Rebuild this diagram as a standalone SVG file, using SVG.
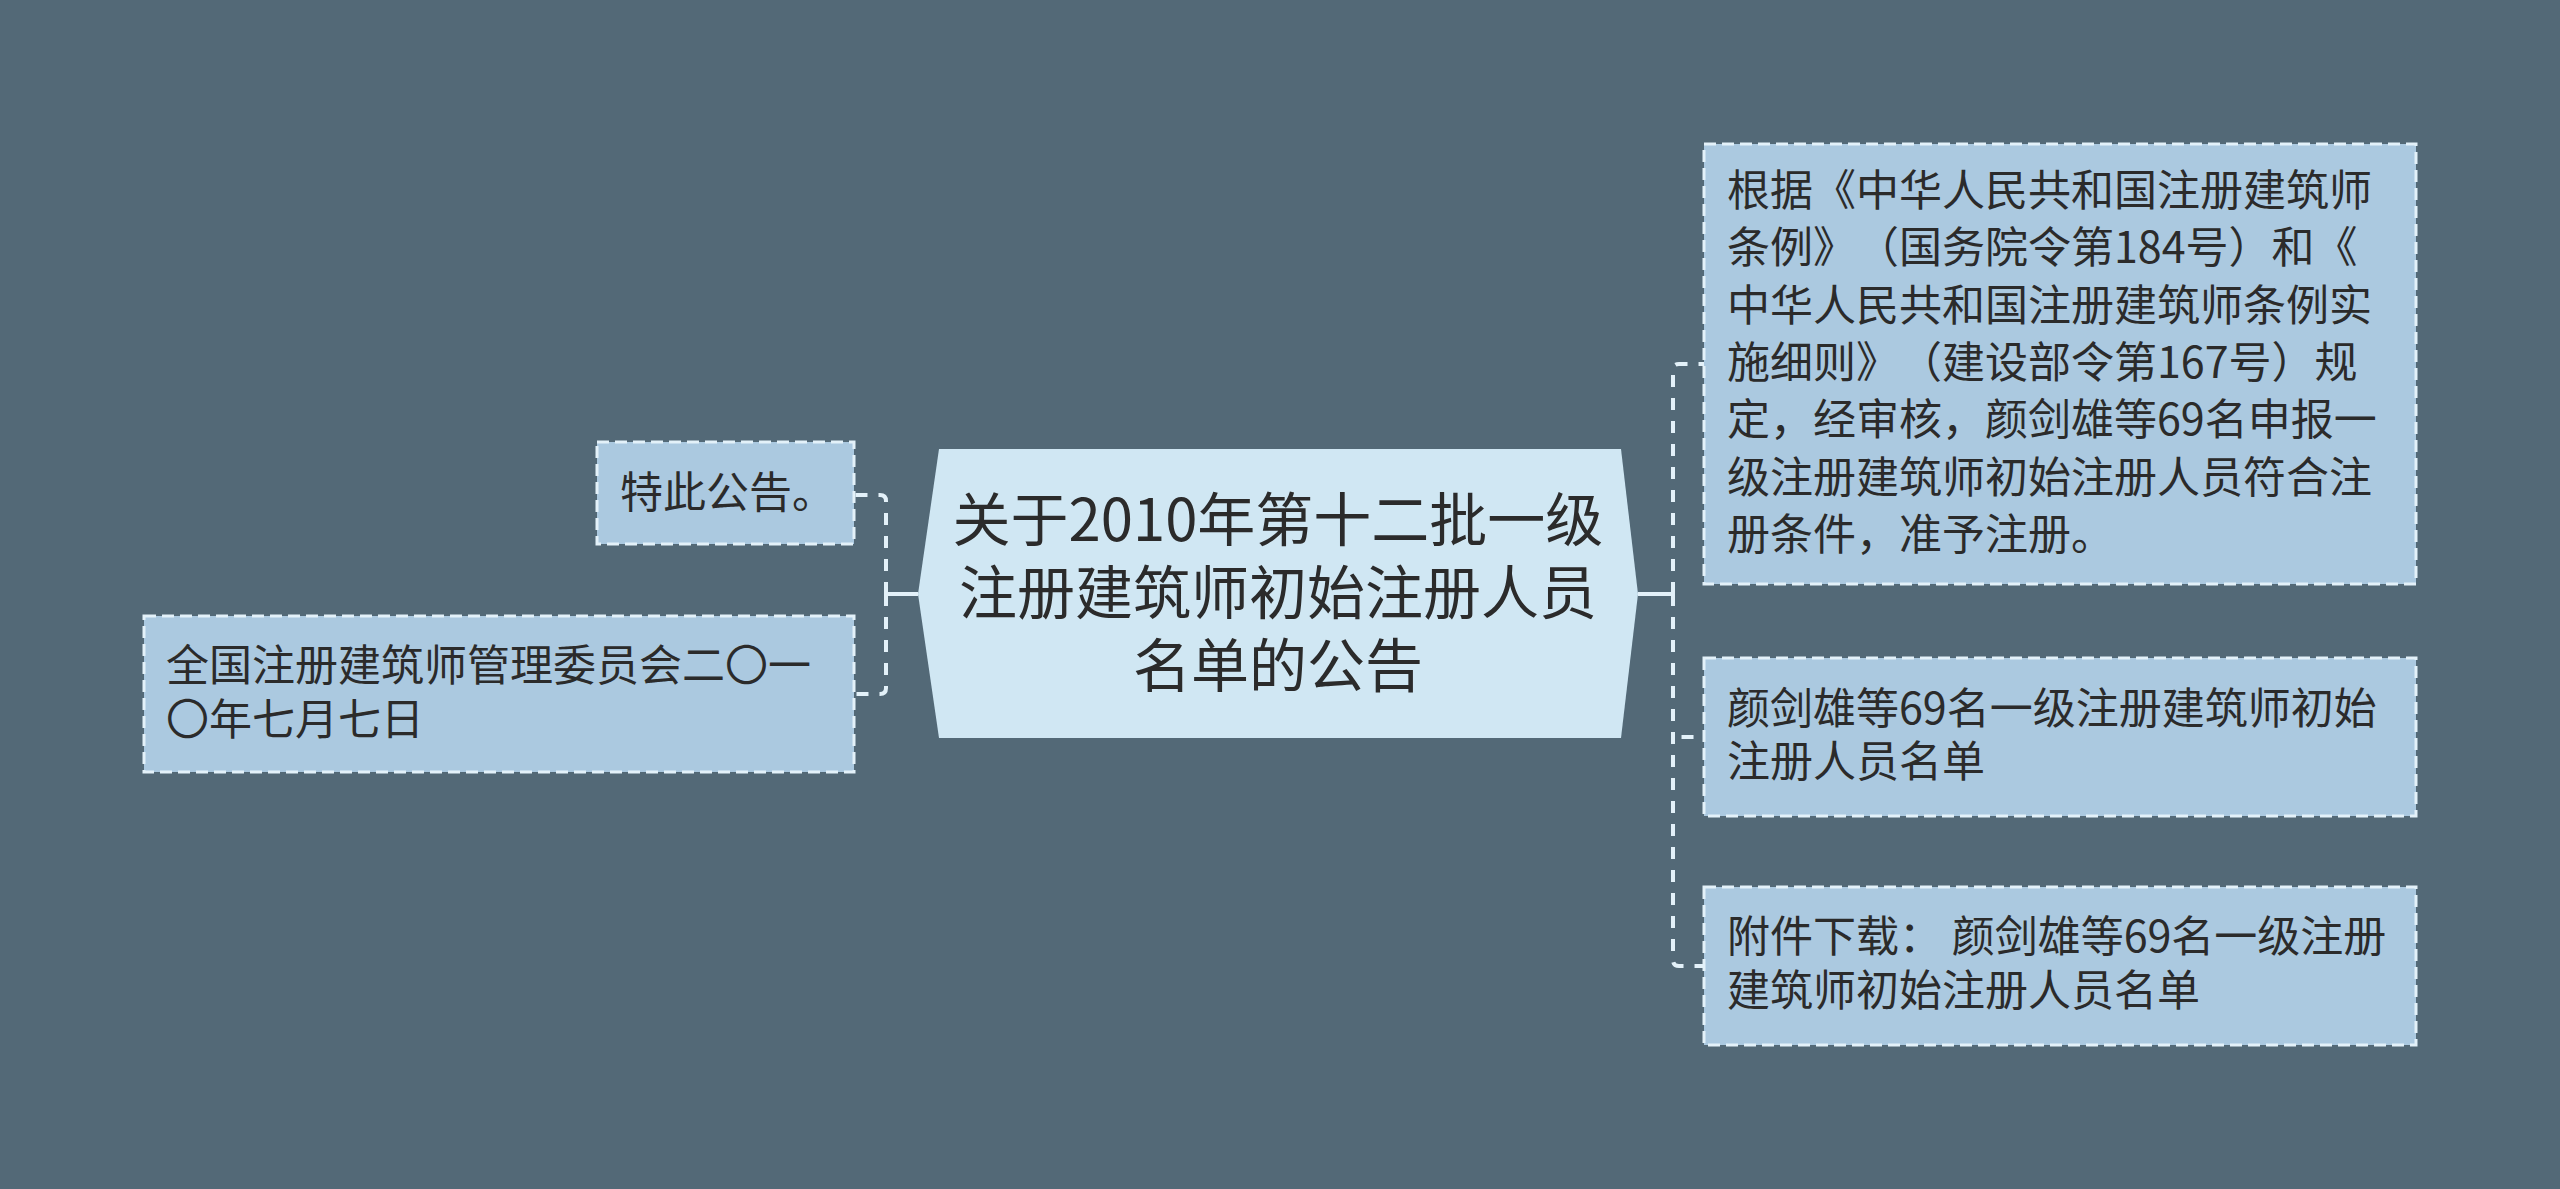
<svg xmlns="http://www.w3.org/2000/svg" width="2560" height="1189" viewBox="0 0 2560 1189">
<style>
.bg{fill:#536977}
.root{fill:#d0e7f3}
.leaf{fill:#abc9e0;stroke:#e3f1f9;stroke-width:3;stroke-dasharray:12 6}
.conn{fill:none;stroke:#e3f1f9;stroke-width:4}
.dash{stroke-dasharray:12 11}
text{font-family:"Noto Sans CJK SC","Noto Sans",sans-serif;fill:#2b2b2b;text-spacing-trim:space-all}
.t1{font-size:58px;text-anchor:middle}
.t2{font-size:43px}
</style>
<rect class="bg" x="0" y="0" width="2560" height="1189"/>
<g id="connectors">
<path class="conn" d="M918 594 H886"/>
<path class="conn dash" d="M886 594 V501 Q886 495 880 495 H854"/>
<path class="conn dash" d="M886 594 V688 Q886 694 880 694 H854"/>
<path class="conn" d="M1638 594 H1673"/>
<path class="conn dash" d="M1673 594 V370 Q1673 364 1679 364 H1704"/>
<path class="conn dash" d="M1673 594 V743 Q1673 737 1679 737 H1704"/>
<path class="conn dash" d="M1673 594 V960 Q1673 966 1679 966 H1704"/>
</g>
<g id="root">
<polygon class="root" points="939,449 1621,449 1638,594 1621,738 939,738 918,594"/>
<text class="t1" x="1278"><tspan x="1278" y="541">关于2010年第十二批一级</tspan><tspan x="1278" y="614">注册建筑师初始注册人员</tspan><tspan x="1278" y="687">名单的公告</tspan></text>
</g>
<g id="node-tecigonggao">
<rect class="leaf" x="597" y="442" width="257" height="102"/>
<text class="t2" x="620" y="508">特此公告。</text>
</g>
<g id="node-quanguo">
<rect class="leaf" x="144" y="616" width="710" height="156"/>
<text class="t2"><tspan x="166" y="681">全国注册建筑师管理委员会二〇一</tspan><tspan x="166" y="735">〇年七月七日</tspan></text>
</g>
<g id="node-genju">
<rect class="leaf" x="1704" y="144" width="712" height="440"/>
<text class="t2"><tspan x="1727" y="206">根据《中华人民共和国注册建筑师</tspan><tspan x="1727" y="263">条例》（国务院令第184号）和《</tspan><tspan x="1727" y="321">中华人民共和国注册建筑师条例实</tspan><tspan x="1727" y="378">施细则》（建设部令第167号）规</tspan><tspan x="1727" y="435">定，经审核，颜剑雄等69名申报一</tspan><tspan x="1727" y="493">级注册建筑师初始注册人员符合注</tspan><tspan x="1727" y="550">册条件，准予注册。</tspan></text>
</g>
<g id="node-mingdan">
<rect class="leaf" x="1704" y="658" width="712" height="158"/>
<text class="t2"><tspan x="1727" y="724">颜剑雄等69名一级注册建筑师初始</tspan><tspan x="1727" y="777">注册人员名单</tspan></text>
</g>
<g id="node-fujian">
<rect class="leaf" x="1704" y="887" width="712" height="158"/>
<text class="t2"><tspan x="1727" y="952">附件下载：&#160;颜剑雄等69名一级注册</tspan><tspan x="1727" y="1006">建筑师初始注册人员名单</tspan></text>
</g>
</svg>
